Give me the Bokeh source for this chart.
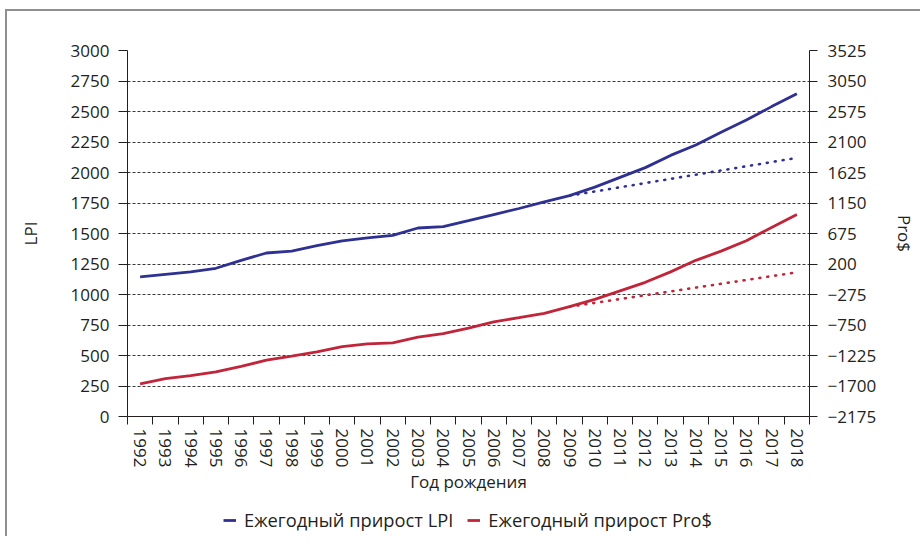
from bokeh.plotting import figure
from bokeh.layouts import column
from bokeh.models import Range1d, LinearAxis, FixedTicker, Legend, LegendItem
from bokeh.embed import file_html
from bokeh.resources import INLINE

# ---- data ----
years = ["1992", "1993", "1994", "1995", "1996", "1997", "1998", "1999", "2000",
         "2001", "2002", "2003", "2004", "2005", "2006", "2007", "2008", "2009",
         "2010", "2011", "2012", "2013", "2014", "2015", "2016", "2017", "2018"]
lpi = [1145, 1165, 1185, 1215, 1280, 1340, 1355, 1400, 1440,
       1465, 1485, 1545, 1557, 1605, 1655, 1705, 1760, 1810,
       1880, 1960, 2040, 2140, 2225, 2330, 2430, 2540, 2645]
pros = [-1666, -1586, -1539, -1480, -1394, -1297, -1234, -1168, -1088,
        -1045, -1027, -940, -883, -797, -702, -636, -569, -465,
        -351, -218, -85, 77, 257, 400, 561, 770, 971]
trend_years = ["2009", "2018"]
trend_lpi = [1810, 2120]
trend_pros = [-465, 70]

left_ticks = [0, 250, 500, 750, 1000, 1250, 1500, 1750, 2000, 2250, 2500, 2750, 3000]
right_ticks = [-2175, -1700, -1225, -750, -275, 200, 675, 1150, 1625, 2100, 2575, 3050, 3525]
right_labels = ["\u22122175", "\u22121700", "\u22121225", "\u2212750", "\u2212275", "200",
                "675", "1150", "1625", "2100", "2575", "3050", "3525"]

series_names = ["Ежегодный прирост LPI", "Ежегодный прирост Pro$"]
x_title = "Год рождения"
left_title = "LPI"
right_title = "Pro$"

BLUE = "#2e3192"
RED = "#c1253a"
INK = "#231f20"
FONT = "Open Sans"
FS = "17px"

xi = [years.index(y) for y in years]
txi = [years.index(y) for y in trend_years]

p = figure(frame_width=682, frame_height=366,
           x_range=Range1d(-0.5, len(years) - 0.5),
           y_range=Range1d(left_ticks[0], left_ticks[-1]),
           min_border_left=120, min_border_right=111, min_border_top=39, min_border_bottom=85,
           output_backend="svg", toolbar_location=None)
p.extra_y_ranges = {"right": Range1d(right_ticks[0], right_ticks[-1])}
p.outline_line_color = None
p.background_fill_color = "white"
p.border_fill_color = "white"

# axes
xa = p.xaxis[0]
xa.ticker = FixedTicker(ticks=xi, minor_ticks=[i - 0.5 for i in range(len(years) + 1)])
xa.major_label_overrides = {i: y for i, y in zip(xi, years)}
xa.major_label_orientation = "vertical"
xa.major_tick_out = 0
xa.major_tick_in = 0
xa.minor_tick_out = 8
xa.minor_tick_in = 0
xa.minor_tick_line_color = INK
xa.axis_label = x_title

ya = p.yaxis[0]
ya.ticker = FixedTicker(ticks=left_ticks)
ya.major_tick_out = 9
ya.major_tick_in = 0
ya.minor_tick_line_color = None
ya.axis_label = left_title
ya.axis_label_standoff = 26

ra = LinearAxis(y_range_name="right", ticker=FixedTicker(ticks=right_ticks),
                major_label_overrides={t: l for t, l in zip(right_ticks, right_labels)},
                axis_label=right_title)
ra.major_tick_out = 8
ra.major_tick_in = 0
ra.minor_tick_line_color = None
ra.axis_label_standoff = 14
p.add_layout(ra, "right")

for ax in [xa, ya, ra]:
    ax.axis_line_color = INK
    ax.major_tick_line_color = INK
    ax.major_label_text_font = FONT
    ax.major_label_text_font_size = FS
    ax.major_label_text_color = INK
    ax.axis_label_text_font = FONT
    ax.axis_label_text_font_size = FS
    ax.axis_label_text_font_style = "normal"
    ax.axis_label_text_color = INK
ya.major_label_standoff = 9
ra.major_label_standoff = 10
xa.major_label_standoff = 4
xa.axis_label_standoff = 0

p.xgrid.grid_line_color = None
p.ygrid.ticker = FixedTicker(ticks=left_ticks)
p.ygrid.grid_line_color = "#3a3a3a"
p.ygrid.grid_line_dash = "3 2"
p.ygrid.grid_line_width = 1

# lines
p.line(xi, lpi, line_color=BLUE, line_width=2.8)
p.line(xi, pros, line_color=RED, line_width=2.8, y_range_name="right")
p.line(txi, trend_lpi, line_color=BLUE, line_width=2.6, line_dash="1 7", line_cap="round")
p.line(txi, trend_pros, line_color=RED, line_width=2.6, line_dash="1 7", line_cap="round",
       y_range_name="right")

# legend strip below the chart (its key lines are the same series, scrolled out of view)
lg = figure(width=913, height=35, x_range=Range1d(-1000, -999), y_range=Range1d(0, 1),
            x_axis_location=None, y_axis_location=None,
            min_border_left=0, min_border_right=0, min_border_top=0, min_border_bottom=0,
            output_backend="svg", toolbar_location=None)
lg.grid.visible = False
lg.outline_line_color = None
lg.background_fill_color = "white"
lg.border_fill_color = "white"
k_lpi = lg.line(xi, lpi, line_color=BLUE, line_width=2.8)
k_pros = lg.line(xi, pros, line_color=RED, line_width=2.8)
legend = Legend(items=[LegendItem(label=series_names[0], renderers=[k_lpi]),
                       LegendItem(label=series_names[1], renderers=[k_pros])],
                location=(96, 4), orientation="horizontal")
legend.background_fill_alpha = 0
legend.border_line_color = None
legend.label_text_font = FONT
legend.label_text_font_size = "18.3px"
legend.label_text_color = INK
legend.glyph_width = 13
legend.glyph_height = 20
legend.label_standoff = 8
legend.spacing = 14
legend.padding = 0
legend.margin = 0
lg.add_layout(legend, "center")

page = column(p, lg, spacing=0)
page.styles = {"border-top": "2px solid #8f8f8f", "border-left": "2px solid #8f8f8f",
               "margin-left": "5px", "margin-top": "9px"}

open("out.html", "w").write(file_html(page, INLINE))
